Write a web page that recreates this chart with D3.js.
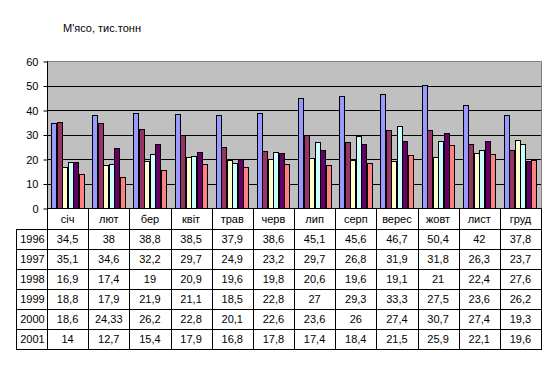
<!DOCTYPE html>
<html><head><meta charset="utf-8">
<script src="https://cdn.jsdelivr.net/npm/d3@7"></script>
<style>body{margin:0;background:#fff}svg{display:block}text{font-family:"Liberation Sans",Arial,sans-serif}</style>
</head><body>
<svg id="c" width="555" height="365"></svg>
<script>
const months = ["січ","лют","бер","квіт","трав","черв","лип","серп","верес","жовт","лист","груд"];
const years = ["1996","1997","1998","1999","2000","2001"];
const v1996 = [34.5,38,38.8,38.5,37.9,38.6,45.1,45.6,46.7,50.4,42,37.8];
const v1997 = [35.1,34.6,32.2,29.7,24.9,23.2,29.7,26.8,31.9,31.8,26.3,23.7];
const v1998 = [16.9,17.4,19,20.9,19.6,19.8,20.6,19.6,19.1,21,22.4,27.6];
const v1999 = [18.8,17.9,21.9,21.1,18.5,22.8,27,29.3,33.3,27.5,23.6,26.2];
const v2000 = [18.6,24.33,26.2,22.8,20.1,22.6,23.6,26,27.4,30.7,27.4,19.3];
const v2001 = [14,12.7,15.4,17.9,16.8,17.8,17.4,18.4,21.5,25.9,22.1,19.6];
const yTicks = [0,10,20,30,40,50,60];
const title = "М'ясо, тис.тонн";
const colors = ["#9999FF","#993366","#FFFFCC","#CCFFFF","#660066","#FF8080"];
const series = [v1996,v1997,v1998,v1999,v2000,v2001];

const svg = d3.select("#c");
const L = 47, R = 541, T = 61, B = 208;
const x0 = d3.scaleBand().domain(months).range([L, R]).padding(0);
const cw = x0.bandwidth();
const x1 = d3.scaleBand().domain(years).range([cw*0.1, cw*0.9]).padding(0);
const y = d3.scaleLinear().domain([0,60]).range([B, T]);

svg.append("text").attr("x",63).attr("y",32).attr("font-size",11).text(title);

svg.append("rect").attr("x",L).attr("y",T).attr("width",R-L).attr("height",B-T).attr("fill","#C0C0C0");
svg.append("g").selectAll("line").data(yTicks.filter(d=>d>0&&d<60)).join("line")
  .attr("x1",L).attr("x2",R).attr("y1",d=>Math.round(y(d))+0.5).attr("y2",d=>Math.round(y(d))+0.5)
  .attr("stroke","#000");
svg.append("path").attr("d",`M${L},${T+0.5}H${R+0.5}V${B}`).attr("fill","none").attr("stroke","#808080");

// bars
const g = svg.append("g");
years.forEach((yr,i)=>{
  g.append("g").selectAll("rect").data(series[i]).join("rect")
    .attr("x",(d,j)=>Math.round(x0(months[j])+x1(yr))+0.5)
    .attr("width",Math.round(x1.bandwidth()))
    .attr("y",d=>Math.round(y(d))+0.5)
    .attr("height",d=>Math.round(B)-Math.round(y(d)))
    .attr("fill",colors[i]).attr("stroke","#000");
});

// y axis
const yAxis = d3.axisLeft(y).tickValues(yTicks).tickSize(4).tickPadding(5);
const ga = svg.append("g").attr("transform",`translate(${L+0.5},0.5)`).call(yAxis);
ga.select(".domain").remove();
ga.selectAll("line").attr("stroke","#000");
ga.selectAll("text").attr("font-size",11).attr("fill","#000").attr("font-family","Liberation Sans, Arial, sans-serif");
svg.append("line").attr("x1",L+0.5).attr("x2",L+0.5).attr("y1",T).attr("y2",B).attr("stroke","#000");

// data table
const tb = svg.append("g");
const rowH = 20, hdrTop = B, hdrBot = 229, tLeft = 16;
const rowY = i => hdrBot + i*rowH;
const tBot = rowY(years.length);
// horizontal lines
tb.append("line").attr("x1",L).attr("x2",R+1).attr("y1",B+0.5).attr("y2",B+0.5).attr("stroke","#000");
for(let i=0;i<=years.length;i++){
  tb.append("line").attr("x1",tLeft).attr("x2",R+1).attr("y1",rowY(i)+0.5).attr("y2",rowY(i)+0.5).attr("stroke","#000");
}
// vertical lines
months.forEach(m=>{
  tb.append("line").attr("x1",Math.round(x0(m))+0.5).attr("x2",Math.round(x0(m))+0.5).attr("y1",B).attr("y2",tBot+1).attr("stroke","#000");
});
tb.append("line").attr("x1",R+0.5).attr("x2",R+0.5).attr("y1",B).attr("y2",tBot+1).attr("stroke","#000");
tb.append("line").attr("x1",tLeft+0.5).attr("x2",tLeft+0.5).attr("y1",hdrBot).attr("y2",tBot+1).attr("stroke","#000");
// header labels
tb.selectAll("text.m").data(months).join("text").attr("class","m")
  .attr("x",d=>x0(d)+cw/2).attr("y",(hdrTop+hdrBot)/2+4).attr("text-anchor","middle").attr("font-size",11).text(d=>d);
// rows
const fmt = v => String(v).replace(".",",");
years.forEach((yr,i)=>{
  const cy = rowY(i)+rowH/2+4;
  tb.append("text").attr("x",(tLeft+L)/2+1).attr("y",cy).attr("text-anchor","middle").attr("font-size",11).text(yr);
  tb.append("g").selectAll("text").data(series[i]).join("text")
    .attr("x",(d,j)=>x0(months[j])+cw/2).attr("y",cy).attr("text-anchor","middle").attr("font-size",11).text(d=>fmt(d));
});
</script>
</body></html>
